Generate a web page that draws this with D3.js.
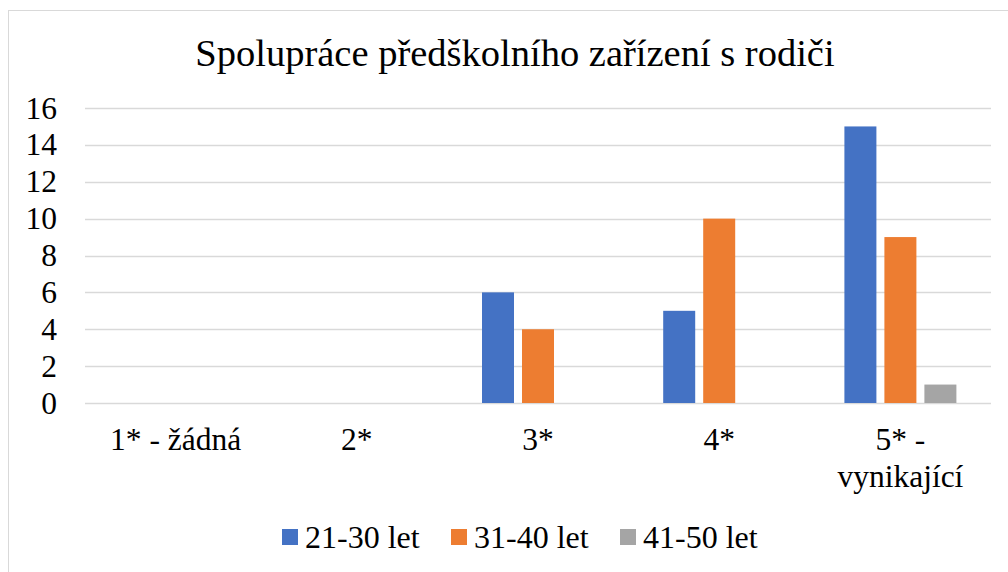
<!DOCTYPE html>
<html>
<head>
<meta charset="utf-8">
<script src="https://cdn.jsdelivr.net/npm/d3@7"></script>
<style>
  body { margin: 0; background: #fff; }
  svg text { font-family: "Liberation Serif", "Times New Roman", serif; fill: #000; }
</style>
</head>
<body>
<div id="chart"></div>
<script>
// Data
const categories = ["1* - žádná", "2*", "3*", "4*", "5* - vynikající"];
const seriesNames = ["21-30 let", "31-40 let", "41-50 let"];
const values2130 = [0, 0, 6, 5, 15];
const values3140 = [0, 0, 4, 10, 9];
const values4150 = [0, 0, 0, 0, 1];
const yTicks = [0, 2, 4, 6, 8, 10, 12, 14, 16];
const colors = ["#4472c4", "#ed7d31", "#a5a5a5"];

const width = 1008, height = 572;
const plot = { left: 85, right: 991, top: 108, bottom: 403 };
const serif = "'Liberation Serif', 'Times New Roman', serif";

const svg = d3.select("#chart").append("svg")
  .attr("width", width)
  .attr("height", height)
  .attr("font-family", serif);

// chart border (only left/top visible in crop)
svg.append("rect")
  .attr("x", 8.5).attr("y", 10.5)
  .attr("width", 1010).attr("height", 580)
  .attr("fill", "#fff")
  .attr("stroke", "#d9d9d9")
  .attr("stroke-width", 1);

svg.append("text")
  .attr("x", 515).attr("y", 66)
  .attr("text-anchor", "middle")
  .style("font-size", "38.5px")
  .text("Spolupráce předškolního zařízení s rodiči");

const y = d3.scaleLinear().domain([0, 16]).range([plot.bottom, plot.top]);
const x0 = d3.scaleBand().domain(categories).range([plot.left, plot.right]).padding(0);
const groupW = 112;
const x1 = d3.scaleBand().domain(seriesNames)
  .range([(x0.bandwidth() - groupW) / 2, (x0.bandwidth() + groupW) / 2])
  .paddingInner(0.2);

// gridlines
svg.append("g")
  .selectAll("line")
  .data(yTicks)
  .join("line")
  .attr("x1", plot.left).attr("x2", plot.right)
  .attr("y1", d => Math.round(y(d)) + 0.5)
  .attr("y2", d => Math.round(y(d)) + 0.5)
  .attr("stroke", "#d9d9d9")
  .attr("stroke-width", 1.5);

// y axis labels
const yAxis = svg.append("g")
  .attr("transform", `translate(${plot.left},0)`)
  .call(d3.axisLeft(y).tickValues(yTicks).tickSize(0).tickPadding(28));
yAxis.attr("font-family", serif).attr("font-size", null);
yAxis.select(".domain").remove();
yAxis.selectAll("text")
  .style("font-size", "31.5px");

// bars
const table = categories.map((c, i) => ({
  cat: c,
  vals: [values2130[i], values3140[i], values4150[i]]
}));

svg.append("g")
  .selectAll("g")
  .data(table)
  .join("g")
  .attr("transform", d => `translate(${x0(d.cat)},0)`)
  .selectAll("rect")
  .data(d => d.vals.map((v, j) => ({ name: seriesNames[j], v, j })).filter(e => e.v > 0))
  .join("rect")
  .attr("x", d => x1(d.name))
  .attr("y", d => y(d.v))
  .attr("width", x1.bandwidth())
  .attr("height", d => y(0) - y(d.v))
  .attr("fill", d => colors[d.j]);

// category labels (wrap last)
const catLines = {
  "5* - vynikající": ["5* -", "vynikající"]
};
const xl = svg.append("g");
categories.forEach(c => {
  const lines = catLines[c] || [c];
  const t = xl.append("text")
    .attr("x", x0(c) + x0.bandwidth() / 2)
    .attr("y", 450)
    .attr("text-anchor", "middle")
    .style("font-size", "31.5px");
  lines.forEach((l, i) => {
    t.append("tspan")
      .attr("x", x0(c) + x0.bandwidth() / 2)
      .attr("dy", i === 0 ? 0 : 37)
      .text(l);
  });
});

// legend
const legendX = [282, 451, 620];
const lg = svg.append("g");
seriesNames.forEach((s, i) => {
  lg.append("rect")
    .attr("x", legendX[i]).attr("y", 529)
    .attr("width", 16).attr("height", 16)
    .attr("fill", colors[i]);
  lg.append("text")
    .attr("x", legendX[i] + 23).attr("y", 548)
    .style("font-size", "32px")
    .text(s);
});
</script>
</body>
</html>
